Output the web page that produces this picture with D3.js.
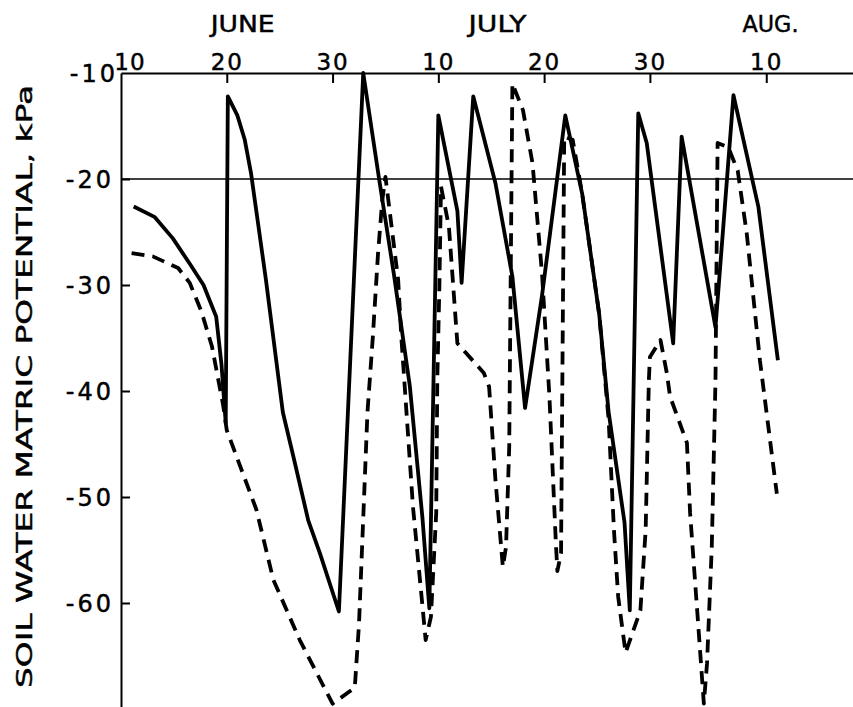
<!DOCTYPE html>
<html>
<head>
<meta charset="utf-8">
<script src="https://cdnjs.cloudflare.com/ajax/libs/d3/7.8.5/d3.min.js"></script>
<style>
  html, body { margin: 0; padding: 0; background: #fff; }
  svg { display: block; }
  text { font-family: "DejaVu Sans", "Liberation Sans", sans-serif; fill: #000; stroke: #000; stroke-width: 0.45px; }
</style>
</head>
<body>
<script>
// Day numbers counted from May 31 (June 10 = 10, July 10 = 40, Aug 10 = 71)
const xTickDays   = [10, 20, 30, 40, 50, 60, 71];
const xTickLabels = ["10", "20", "30", "10", "20", "30", "10"];
const months      = ["JUNE", "JULY", "AUG."];
const monthDays   = [21.5, 45.6, 71.4];
const yTickValues = [-10, -20, -30, -40, -50, -60];
const refLine     = -20;
const yTitle      = "SOIL WATER MATRIC POTENTIAL, kPa";

// Solid curve
const solidDays = [11.2, 13.2, 14.9, 16.5, 17.8, 19.0, 19.5, 19.9, 20.1, 21.0, 21.7, 22.3, 23.7, 25.3, 26.3, 27.7, 28.8, 30.6,
  32.9, 34.4, 35.8, 37.3, 38.5, 39.15, 40.0, 41.8, 42.2, 43.3, 45.4, 47.0, 48.2, 49.8, 52.0, 53.6, 55.2, 56.1, 57.6, 58.1,
  58.9, 59.7, 62.2, 63.0, 66.2, 67.9, 70.25, 72.1];
const solidValues = [-22.6, -23.6, -25.6, -28.0, -30.0, -33.0, -37.5, -43.0, -12.2, -14.0, -16.3, -19.5, -29.5, -42.0, -46.2, -52.2, -55.3, -60.8,
  -10.0, -20.0, -29.0, -39.5, -52.0, -60.5, -14.0, -23.0, -29.8, -12.2, -20.4, -29.2, -41.6, -31.0, -14.0, -21.4, -32.7, -42.0, -52.4, -60.7,
  -13.8, -16.6, -35.5, -16.0, -34.0, -12.1, -22.6, -37.1];

// Dashed curve
const dashedDays = [11.0, 13.0, 15.4, 16.5, 17.6, 18.6, 19.65, 20.0, 22.8, 24.4, 26.9, 30.0, 32.1, 32.5, 32.9, 33.3, 33.8, 34.3, 34.7, 35.0,
  36.2, 36.5, 37.6, 38.5, 38.8, 39.3, 39.8, 39.9, 40.1, 40.25, 41.0, 41.8, 42.6, 44.3, 44.8, 45.4, 46.1, 46.4, 46.7, 47.0,
  48.0, 48.9, 49.8, 50.5, 51.1, 51.25, 51.6, 51.9, 52.7, 53.6, 55.2, 56.1, 56.6, 57.0, 57.7, 59.1, 59.6, 59.9, 60.0, 61.0,
  61.6, 61.9, 63.5, 63.8, 64.6, 65.1, 65.4, 65.85, 66.2, 66.4, 67.4, 68.3, 69.15, 70.4, 72.0];
const dashedValues = [-27.0, -27.3, -28.4, -29.8, -32.5, -35.8, -41.3, -43.7, -51.2, -57.8, -63.5, -69.5, -68.0, -62.0, -52.0, -42.0, -35.0, -27.0, -22.0, -19.8,
  -29.5, -34.9, -50.9, -60.3, -63.5, -61.3, -51.5, -39.0, -30.0, -20.7, -24.5, -35.5, -36.4, -38.3, -39.6, -48.4, -56.6, -54.7, -45.3, -11.0,
  -13.5, -18.5, -28.9, -40.5, -54.1, -57.0, -55.3, -16.0, -16.3, -21.4, -32.7, -42.7, -53.1, -59.4, -64.7, -60.7, -53.1, -39.0, -36.8, -35.2,
  -38.3, -40.5, -44.9, -51.5, -62.5, -69.5, -65.7, -54.7, -39.0, -16.6, -17.0, -19.2, -25.1, -37.1, -49.7];

const W = 853, H = 707;
const mLeft = 121, mTop = 73, mRight = 853, mBottom = 709;

const svg = d3.select("body").append("svg").attr("width", W).attr("height", H);

const x = d3.scaleLinear().domain([10, 79.2]).range([mLeft, mRight]);
const y = d3.scaleLinear().domain([-10, -70]).range([mTop, mBottom]);

// Reference line at -20
svg.append("line")
  .attr("x1", x(10)).attr("x2", mRight)
  .attr("y1", y(refLine)).attr("y2", y(refLine))
  .attr("stroke", "#000").attr("stroke-width", 1.6);

// Top axis
const xAxis = d3.axisTop(x).tickValues(xTickDays.slice(1))
  .tickFormat((d) => xTickLabels[xTickDays.indexOf(d)])
  .tickSizeInner(-10).tickSizeOuter(0).tickPadding(3);
const gx = svg.append("g").attr("transform", `translate(0,${mTop})`).call(xAxis);
gx.select(".domain").attr("stroke", "#000").attr("stroke-width", 2);
gx.selectAll(".tick line").attr("stroke", "#000").attr("stroke-width", 2);
gx.selectAll(".tick text").attr("font-size", 23).attr("letter-spacing", 2).attr("fill", "#000");
// first label (June 10) sits just right of the corner
svg.append("text")
  .attr("x", x(xTickDays[0]) + 9).attr("y", mTop - 3)
  .attr("text-anchor", "middle").attr("font-size", 23).attr("letter-spacing", 1)
  .text(xTickLabels[0]);

// Month labels
const monthLen = [64, 58, 56];
svg.selectAll("text.month").data(months).join("text")
  .attr("class", "month")
  .attr("x", (d, i) => x(monthDays[i]))
  .attr("y", 32)
  .attr("text-anchor", "middle")
  .attr("font-size", 23)
  .attr("textLength", (d, i) => monthLen[i])
  .attr("lengthAdjust", "spacingAndGlyphs")
  .text((d) => d);

// Left axis
const yAxis = d3.axisLeft(y).tickValues(yTickValues)
  .tickFormat((d) => String(d))
  .tickSizeInner(-9).tickSizeOuter(0).tickPadding(7);
const gy = svg.append("g").attr("transform", `translate(${mLeft},0)`).call(yAxis);
gy.select(".domain").attr("stroke", "#000").attr("stroke-width", 2);
gy.selectAll(".tick line").attr("stroke", "#000").attr("stroke-width", 2);
gy.selectAll(".tick text").attr("font-size", 24).attr("letter-spacing", 3).attr("fill", "#000")
  .attr("dy", "0.36em")
  .attr("x", (d) => d === -10 ? -3 : -7);
gy.selectAll(".tick").filter((d) => d === -10).select("line").remove();

// Y title
svg.append("text")
  .attr("transform", `translate(32,${(mTop + 700) / 2}) rotate(-90)`)
  .attr("text-anchor", "middle")
  .attr("font-size", 22)
  .attr("textLength", 603)
  .attr("lengthAdjust", "spacingAndGlyphs")
  .text(yTitle);

// Lines
const line = d3.line().x((d) => x(d[0])).y((d) => y(d[1]));
const solidData = solidDays.map((d, i) => [d, solidValues[i]]);
const dashedData = dashedDays.map((d, i) => [d, dashedValues[i]]);

svg.append("path").datum(dashedData)
  .attr("d", line).attr("fill", "none")
  .attr("stroke", "#000").attr("stroke-width", 3.8)
  .attr("stroke-dasharray", "13,8")
  .attr("stroke-linejoin", "round");

svg.append("path").datum(solidData)
  .attr("d", line).attr("fill", "none")
  .attr("stroke", "#000").attr("stroke-width", 3.8)
  .attr("stroke-linejoin", "round");
</script>
</body>
</html>
